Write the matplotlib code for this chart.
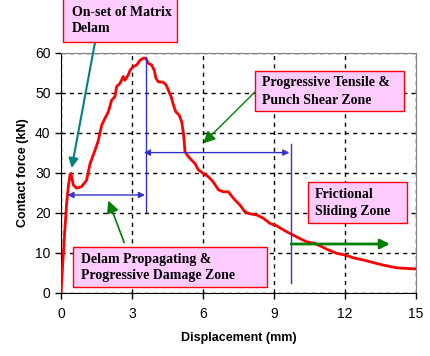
import matplotlib
matplotlib.use("Agg")
import matplotlib.pyplot as plt
from matplotlib.patches import Rectangle, FancyArrowPatch

# contact force vs displacement
disp = [0.0, 0.05, 0.17, 0.24, 0.31, 0.38, 0.42, 0.52, 0.66, 0.87, 1.08, 1.23, 1.3,
        1.44, 1.58, 1.72, 1.86, 2.0, 2.14, 2.28, 2.35, 2.49, 2.63, 2.7, 2.84, 2.92,
        3.05, 3.2, 3.34, 3.48, 3.58, 3.69, 3.83, 3.94, 4.01, 4.11, 4.32, 4.44, 4.53,
        4.65, 4.75, 4.85, 4.99, 5.1, 5.17, 5.2, 5.24, 5.38, 5.52, 5.66, 5.8, 6.01,
        6.22, 6.43, 6.65, 6.86, 7.07, 7.28, 7.56, 7.77, 7.98, 8.27, 8.55, 8.83,
        9.11, 9.39, 9.67, 10.03, 10.38, 10.73, 11.01, 11.29, 11.65, 12.0, 12.35,
        12.77, 13.2, 13.6, 14.18, 15.0]
force = [0.0, 5.0, 16.6, 22.5, 26.6, 29.5, 29.9, 27.0, 26.2, 26.6, 28.2, 32.4, 33.5,
         35.7, 38.2, 42.0, 43.7, 45.3, 48.2, 49.1, 51.6, 52.4, 54.1, 53.2, 54.5, 55.7,
         56.6, 57.0, 58.2, 58.7, 58.7, 57.4, 57.0, 55.7, 53.7, 52.8, 52.7, 52.0, 50.8,
         49.1, 47.0, 45.3, 44.5, 42.8, 40.0, 38.2, 35.3, 34.1, 33.2, 32.4, 30.8, 29.9,
         29.1, 27.8, 25.8, 25.3, 25.3, 23.7, 22.0, 20.3, 19.8, 19.5, 18.7, 17.4,
         16.8, 15.8, 14.9, 13.8, 12.8, 12.4, 11.6, 10.8, 9.9, 9.5, 8.8,
         8.25, 7.6, 7.0, 6.3, 6.0]

x_ticks = [0, 3, 6, 9, 12, 15]
y_ticks = [0, 10, 20, 30, 40, 50, 60]

BLUE = '#3333CC'
GREEN = '#008000'
TEAL = '#008080'
PINK = '#FFCCFF'

fig = plt.figure(figsize=(4.3, 3.56), dpi=100)
ax = fig.add_axes([61/430, 63/356, 355/430, 240/356])

ax.plot(disp, force, color='red', lw=2, zorder=5)

ax.set_xlim(0, 15)
ax.set_ylim(0, 60)
ax.set_xticks(x_ticks)
ax.set_yticks(y_ticks)
ax.tick_params(labelsize=10, length=4, direction='out', width=1)
ax.tick_params(axis='x', pad=6)
for lab in ax.get_xticklabels() + ax.get_yticklabels():
    lab.set_fontfamily('Liberation Sans')
ax.grid(True, color='black', linestyle=(0, (3, 3)), lw=1)
ax.spines['top'].set_color('#808080')
ax.spines['right'].set_color('#808080')
ax.set_xlabel('Displacement (mm)', fontsize=9, fontweight='bold', family='Liberation Sans',
              labelpad=8)
ax.set_ylabel('Contact force (kN)', fontsize=9, fontweight='bold', family='Liberation Sans')


def box(x0, y0, x1, y1, lines, tx, ty):
    ax.add_patch(Rectangle((x0, y0), x1 - x0, y1 - y0, facecolor=PINK, edgecolor='red',
                           lw=1, clip_on=False, zorder=8))
    for t, yy in zip(lines, ty):
        ax.text(tx, yy, t, fontsize=10, fontweight='bold', family='Liberation Serif',
                va='center', ha='left', zorder=9, clip_on=False)


def arrow(p0, p1, color, lw, ms, style='-|>'):
    ax.add_patch(FancyArrowPatch(p0, p1, arrowstyle=style, color=color, lw=lw,
                                 mutation_scale=ms, clip_on=False, zorder=7,
                                 shrinkA=0, shrinkB=0))


# zone boundaries
ax.plot([3.59, 3.59], [20.3, 58.9], color=BLUE, lw=1, zorder=6)
ax.plot([9.72, 9.72], [2.6, 37.3], color=BLUE, lw=1, zorder=6)
arrow((3.5, 35.1), (9.65, 35.1), BLUE, 1, 9, '<|-|>')
arrow((0.27, 24.5), (3.55, 24.5), BLUE, 1, 9, '<|-|>')
arrow((9.72, 12.25), (13.9, 12.25), GREEN, 2, 14)

box(0.085, 62.75, 4.9, 75, ['On-set of Matrix', 'Delam'], 0.46, [70.1, 66.0])
arrow((1.44, 62.75), (0.45, 31.25), TEAL, 1.5, 14)

box(8.2, 45.5, 14.5, 55.5, ['Progressive Tensile &', 'Punch Shear Zone'], 8.48, [52.6, 48.25])
arrow((8.2, 50.3), (6.01, 37.4), GREEN, 1, 18)

box(0.52, 1.43, 8.69, 11.4, ['Delam Propagating &', 'Progressive Damage Zone'], 0.83, [8.4, 4.5])
arrow((2.67, 12.6), (2.0, 23.1), GREEN, 1.2, 18)

box(10.45, 17.4, 14.6, 27.7, ['Frictional', 'Sliding Zone'], 10.73, [24.5, 20.3])

fig.savefig('out.png', dpi=100)
